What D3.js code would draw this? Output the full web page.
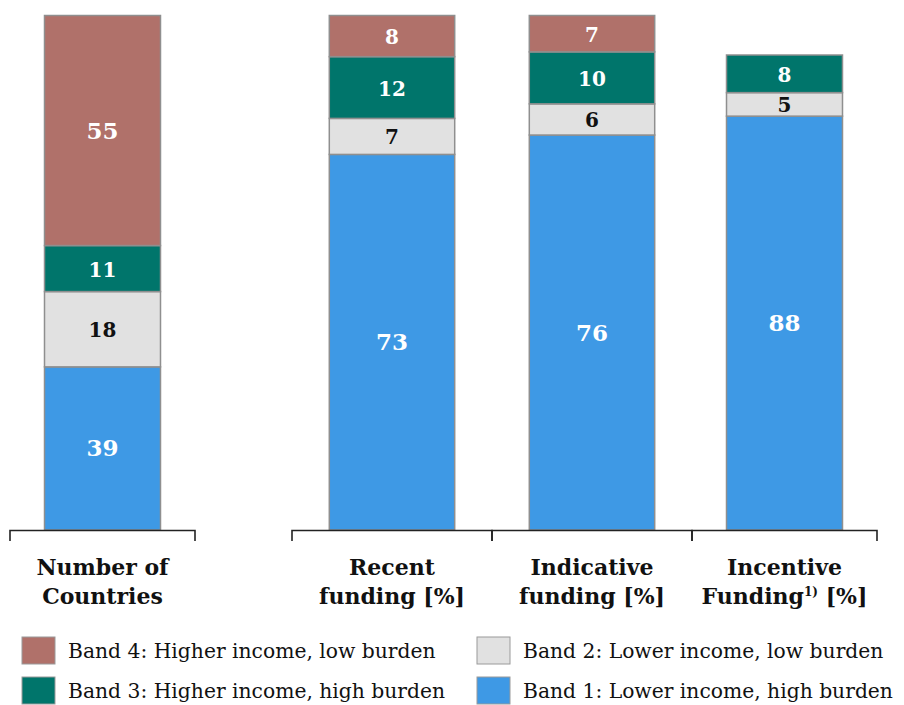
<!DOCTYPE html>
<html>
<head>
<meta charset="utf-8">
<script src="https://cdn.jsdelivr.net/npm/d3@7"></script>
<style>
  body { margin: 0; background: #fff; }
  svg text { font-family: "DejaVu Serif", Georgia, serif; }
</style>
</head>
<body>
<div id="chart"></div>
<script>
// data
var categories = ["Number of Countries", "Recent funding [%]", "Indicative funding [%]", "Incentive Funding [%]"];
var labelLines = [["Number of", "Countries"], ["Recent", "funding [%]"], ["Indicative", "funding [%]"], ["Incentive", "Funding^1) [%]"]];
var bandKeys = ["band1", "band2", "band3", "band4"];
var bandNames = ["Band 1: Lower income, high burden", "Band 2: Lower income, low burden",
                 "Band 3: Higher income, high burden", "Band 4: Higher income, low burden"];
var band1 = [39, 73, 76, 88];
var band2 = [18, 7, 6, 5];
var band3 = [11, 12, 10, 8];
var band4 = [55, 8, 7, 0];
// top of each bar's own value scale (bars are not drawn on a shared axis)
var scaleMax = [123, 100, 99, 109.4];

var colors = { band1: "#3e99e5", band2: "#e1e1e1", band3: "#00756b", band4: "#b0716a" };
var textColors = { band1: "#fff", band2: "#111", band3: "#fff", band4: "#fff" };

var svgWidth = 904, svgHeight = 705;
var baseY = 530, topY = 15.5;

var svg = d3.select("#chart").append("svg")
  .attr("width", svgWidth)
  .attr("height", svgHeight);

var rows = categories.map(function(c, i) {
  return { cat: c, idx: i, band1: band1[i], band2: band2[i], band3: band3[i], band4: band4[i] };
});
var series = d3.stack().keys(bandKeys)(rows);

// each category owns a bracket slot under the bars
var slot = d3.scaleOrdinal()
  .domain(categories)
  .range([[10, 195], [292, 492], [492, 692], [692, 877]]);
var center = function(c) { var s = slot(c); return (s[0] + s[1]) / 2; };
var barW = function(c) { var s = slot(c); return (s[1] - s[0]) * 0.627; };

var yScales = scaleMax.map(function(m) {
  return d3.scaleLinear().domain([0, m]).range([baseY, topY]);
});

var groups = svg.selectAll("g.series")
  .data(series)
  .enter().append("g")
  .attr("class", "series");

groups.selectAll("rect")
  .data(function(s) { return s.map(function(d) { d.key = s.key; return d; }); })
  .enter().append("rect")
  .filter(function(d) { return d[1] > d[0]; })
  .attr("x", function(d) { return center(d.data.cat) - barW(d.data.cat) / 2; })
  .attr("width", function(d) { return barW(d.data.cat); })
  .attr("y", function(d) { return yScales[d.data.idx](d[1]); })
  .attr("height", function(d) { var y = yScales[d.data.idx]; return y(d[0]) - y(d[1]); })
  .attr("fill", function(d) { return colors[d.key]; })
  .attr("stroke", "#8f8f8f")
  .attr("stroke-width", 1.5);

groups.selectAll("text")
  .data(function(s) { return s.filter(function(d) { return d[1] > d[0]; }); })
  .enter().append("text")
  .attr("x", function(d) { return center(d.data.cat); })
  .attr("y", function(d) { var y = yScales[d.data.idx]; return (y(d[0]) + y(d[1])) / 2 + 8; })
  .attr("text-anchor", "middle")
  .attr("font-weight", "bold")
  .attr("font-size", function(d) { return (d[1] - d[0]) >= 30 ? 23 : 20; })
  .attr("fill", function(d) { return textColors[d.key]; })
  .text(function(d) { return d[1] - d[0]; });

// brackets under the bars
var br = svg.append("g").attr("stroke", "#222").attr("stroke-width", 1.6).attr("fill", "none");
categories.forEach(function(c) {
  var s = slot(c);
  br.append("path")
    .attr("d", "M" + s[0] + "," + (baseY + 11) + "V" + (baseY + 0.5) + "H" + s[1] + "V" + (baseY + 11));
});

// category labels
categories.forEach(function(c, i) {
  var t = svg.append("text")
    .attr("x", center(c))
    .attr("y", 575)
    .attr("text-anchor", "middle")
    .attr("font-weight", "bold")
    .attr("font-size", 22)
    .attr("fill", "#111");
  labelLines[i].forEach(function(line, j) {
    var parts = line.split("^");
    if (parts.length === 1) {
      t.append("tspan").attr("x", center(c)).attr("dy", j === 0 ? 0 : 29).text(line);
    } else {
      var sup = parts[1].split(" ");
      t.append("tspan").attr("x", center(c)).attr("dy", j === 0 ? 0 : 29).text(parts[0]);
      t.append("tspan").attr("font-size", 12).attr("dy", -8).text(sup[0]);
      t.append("tspan").attr("dy", 8).text(" " + sup.slice(1).join(" "));
    }
  });
});

// legend
var legendItems = [
  { key: "band4", col: 0, row: 0 },
  { key: "band2", col: 1, row: 0 },
  { key: "band3", col: 0, row: 1 },
  { key: "band1", col: 1, row: 1 }
];
var legend = svg.append("g");
legendItems.forEach(function(it) {
  var lx = it.col === 0 ? 22 : 477;
  var ly = 637 + it.row * 40;
  legend.append("rect")
    .attr("x", lx).attr("y", ly)
    .attr("width", 33).attr("height", 27)
    .attr("fill", colors[it.key])
    .attr("stroke", "#9a9a9a")
    .attr("stroke-width", 1);
  legend.append("text")
    .attr("x", lx + 46)
    .attr("y", ly + 21)
    .attr("font-size", 20.3)
    .attr("fill", "#111")
    .text(bandNames[bandKeys.indexOf(it.key)]);
});
</script>
</body>
</html>
